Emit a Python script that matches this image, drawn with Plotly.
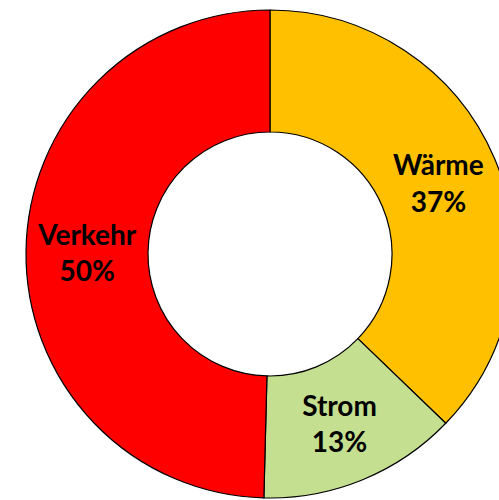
import plotly.graph_objects as go

labels = ["Wärme", "Strom", "Verkehr"]
values = [37.2, 13.2, 49.6]
colors = ["#FFC000", "#C4DF8F", "#FF0000"]

W, H = 540, 510
cx, cy, r = 270, 254, 244

fig = go.Figure(go.Pie(
    labels=labels, values=values, sort=False, direction="clockwise", rotation=0,
    hole=0.5,
    marker=dict(colors=colors, line=dict(color="black", width=1.2)),
    texttemplate="<b>%{label}<br>%{percent:.0%}</b>",
    textposition="inside", insidetextorientation="horizontal",
    textfont=dict(family="Lato", size=28, color="black"),
    domain=dict(x=[(cx - r) / W, (cx + r) / W], y=[1 - (cy + r) / H, 1 - (cy - r) / H]),
    showlegend=False, hoverinfo="skip",
))
fig.update_layout(width=W, height=H, autosize=False, margin=dict(l=0, r=0, t=0, b=0),
                  paper_bgcolor="white", plot_bgcolor="white",
                  uniformtext=dict(minsize=28, mode="show"))

fig.write_html("out.html", config={"displayModeBar": False},
               post_script="document.body.style.margin='0';document.body.style.overflow='hidden';document.documentElement.style.overflow='hidden';")
